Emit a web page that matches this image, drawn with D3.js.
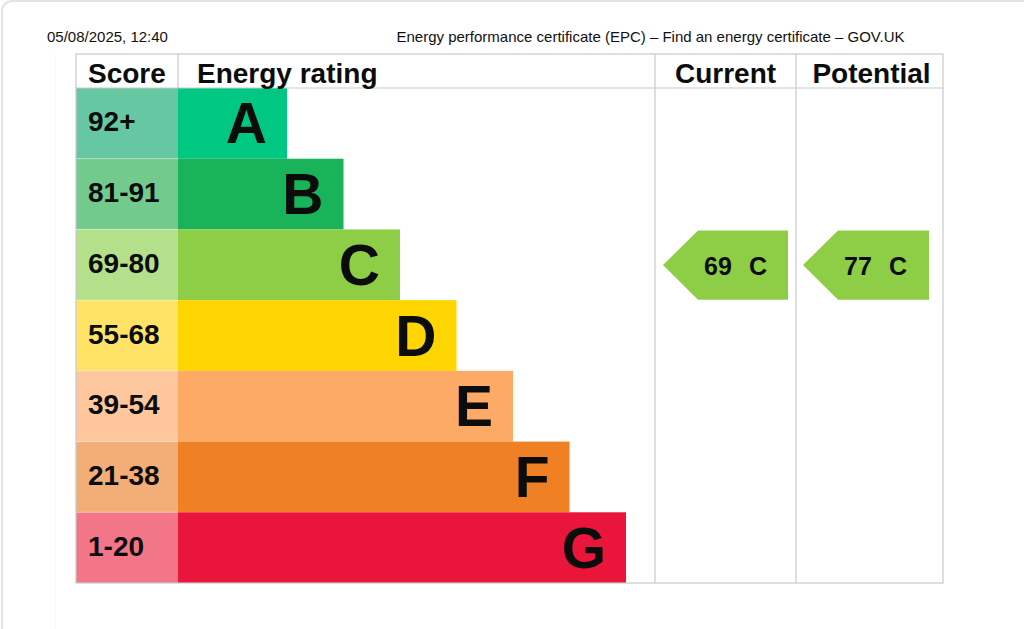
<!DOCTYPE html>
<html>
<head>
<meta charset="utf-8">
<script src="https://cdn.jsdelivr.net/npm/d3@7"></script>
<style>
  html, body { margin: 0; padding: 0; background: #fff; }
  svg { display: block; font-family: "Liberation Sans", Arial, sans-serif; }
</style>
</head>
<body>
<svg id="chart" width="1024" height="629"></svg>
<script>
// ---- data ----
const bands = ["A", "B", "C", "D", "E", "F", "G"];
const scoreRanges = ["92+", "81-91", "69-80", "55-68", "39-54", "21-38", "1-20"];
const barColors = ["#00c781", "#19b459", "#8dce46", "#ffd500", "#fcaa65", "#ef8023", "#e9153b"];
const scoreColors = ["#66c8a3", "#72cb8d", "#b4e08b", "#ffe366", "#fdc69c", "#f3ae78", "#f27588"];
const barLengths = [1, 2, 3, 4, 5, 6, 7];          // relative bar length per band
const headers = ["Score", "Energy rating", "Current", "Potential"];
const currentScore = 69, currentBand = "C";
const potentialScore = 77, potentialBand = "C";
const dateText = "05/08/2025, 12:40";
const pageTitle = "Energy performance certificate (EPC) \u2013 Find an energy certificate \u2013 GOV.UK";

// ---- layout ----
const svg = d3.select("#chart");
const L = 76, R = 943, T = 54, HB = 88, B = 583;
const scoreR = 178, curL = 655, potL = 796;
const gridColor = "#c9c9c9";

// page frame
svg.append("rect").attr("x", 2).attr("y", 1).attr("width", 1040).attr("height", 660)
  .attr("rx", 10).attr("fill", "none").attr("stroke", "#e3e3e3").attr("stroke-width", 2);
svg.append("line").attr("x1", 55.5).attr("x2", 55.5).attr("y1", 55).attr("y2", 629)
  .attr("stroke", "#f9f9f9");

// page header texts
svg.append("text").attr("x", 47).attr("y", 42).attr("font-size", 15).attr("fill", "#111").text(dateText);
svg.append("text").attr("x", 650.5).attr("y", 42).attr("text-anchor", "middle")
  .attr("font-size", 15).attr("fill", "#111").text(pageTitle);

// scales
const y = d3.scaleBand().domain(bands).range([HB, B]).paddingInner(0);
const w = d3.scaleLinear().domain([1, 7]).range([109, 448]);

const rows = svg.append("g").selectAll("g").data(bands).join("g");
rows.append("rect").attr("x", L).attr("y", d => y(d)).attr("width", scoreR - L).attr("height", y.bandwidth())
  .attr("fill", (d, i) => scoreColors[i]);
rows.append("rect").attr("x", scoreR).attr("y", d => y(d)).attr("width", (d, i) => w(barLengths[i]))
  .attr("height", y.bandwidth()).attr("fill", (d, i) => barColors[i]);
rows.append("text").attr("x", L + 12).attr("y", d => y(d) + y.bandwidth() / 2 + 8)
  .attr("font-size", 28).attr("font-weight", "bold").attr("fill", "#0b0c0c")
  .text((d, i) => scoreRanges[i]);
rows.append("text").attr("x", (d, i) => scoreR + w(barLengths[i]) - 20)
  .attr("y", d => y(d) + y.bandwidth() / 2 + 20)
  .attr("text-anchor", "end").attr("font-size", 57).attr("font-weight", "bold").attr("fill", "#0b0c0c")
  .text(d => d);

// row separators (subtle)
svg.append("g").selectAll("line").data(bands.slice(1)).join("line")
  .attr("x1", L).attr("x2", scoreR).attr("y1", d => y(d)).attr("y2", d => y(d))
  .attr("stroke", "#ffffff").attr("stroke-opacity", 0.35);

// grid
const g = svg.append("g").attr("stroke", gridColor).attr("stroke-width", 1.2).attr("fill", "none");
g.append("rect").attr("x", L).attr("y", T).attr("width", R - L).attr("height", B - T);
g.append("line").attr("x1", L).attr("x2", R).attr("y1", HB).attr("y2", HB);
g.append("line").attr("x1", scoreR).attr("x2", scoreR).attr("y1", T).attr("y2", HB);
g.append("line").attr("x1", curL).attr("x2", curL).attr("y1", T).attr("y2", B);
g.append("line").attr("x1", potL).attr("x2", potL).attr("y1", T).attr("y2", B);

// headers
const hdr = [
  {t: headers[0], x: L + 12, a: "start"},
  {t: headers[1], x: scoreR + 19, a: "start"},
  {t: headers[2], x: (curL + potL) / 2, a: "middle"},
  {t: headers[3], x: (potL + R) / 2 + 2, a: "middle"}
];
svg.append("g").selectAll("text").data(hdr).join("text")
  .attr("x", d => d.x).attr("y", 82.5).attr("text-anchor", d => d.a)
  .attr("font-size", 28).attr("font-weight", "bold").attr("fill", "#0b0c0c").text(d => d.t);

// arrows
function arrow(tipX, rightX, band, score) {
  const i = bands.indexOf(band);
  const top = y(band) + 1, bot = y(band) + y.bandwidth() - 0.5, mid = (top + bot) / 2;
  const pt = 35;
  svg.append("path")
    .attr("d", `M${tipX},${mid} L${tipX + pt},${top} L${rightX},${top} L${rightX},${bot} L${tipX + pt},${bot} Z`)
    .attr("fill", barColors[i]);
  svg.append("text").attr("x", tipX + 41).attr("y", mid + 9.5).attr("font-size", 25)
    .attr("font-weight", "bold").attr("fill", "#0b0c0c").text(score);
  svg.append("text").attr("x", tipX + 86).attr("y", mid + 9.5).attr("font-size", 25)
    .attr("font-weight", "bold").attr("fill", "#0b0c0c").text(band);
}
arrow(663, 788, currentBand, currentScore);
arrow(803, 929, potentialBand, potentialScore);
</script>
</body>
</html>
